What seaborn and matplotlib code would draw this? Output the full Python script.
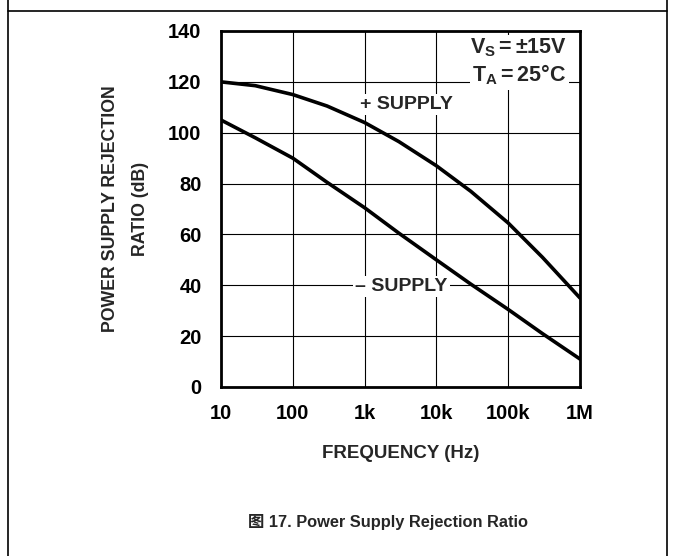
import matplotlib
matplotlib.use("Agg")
import matplotlib.pyplot as plt
from matplotlib.lines import Line2D
import seaborn as sns
import pandas as pd

freq = [10, 30, 100, 300, 1e3, 3e3, 1e4, 3e4, 1e5, 3e5, 1e6]
plus_supply = [120, 118.5, 115, 110.5, 104, 96.5, 87, 77, 64.5, 51, 35]
minus_supply = [105, 98, 90, 80.5, 70.5, 60.5, 50, 40.5, 30.5, 21, 11]
x_ticks = [10, 100, 1e3, 1e4, 1e5, 1e6]
x_tick_labels = ["10", "100", "1k", "10k", "100k", "1M"]
y_ticks = [0, 20, 40, 60, 80, 100, 120, 140]

sns.set_style("white")
plt.rcParams["font.family"] = ["Liberation Sans", "DejaVu Sans"]
plt.rcParams["mathtext.fontset"] = "custom"
plt.rcParams["mathtext.rm"] = "Liberation Sans:bold"
plt.rcParams["mathtext.it"] = "Liberation Sans:bold"
plt.rcParams["mathtext.bf"] = "Liberation Sans:bold"

df = pd.DataFrame({
    "freq": freq * 2,
    "psrr": plus_supply + minus_supply,
    "series": ["+"] * len(freq) + ["-"] * len(freq),
})

fig = plt.figure(figsize=(6.75, 5.56), dpi=100)
ax = fig.add_axes([221 / 675, 1 - 387 / 556, (580 - 221) / 675, (387 - 31) / 556])

sns.lineplot(data=df, x="freq", y="psrr", units="series", estimator=None,
             color="black", linewidth=2.6, ax=ax, zorder=5, legend=False)

ax.set_xscale("log")
ax.set_xlim(10, 1e6)
ax.set_ylim(0, 140)
ax.set_xticks(x_ticks)
ax.set_xticklabels(x_tick_labels)
ax.set_yticks(y_ticks)
ax.minorticks_off()
ax.grid(True, which="major", color="black", linewidth=0.8)
ax.set_axisbelow(True)
for s in ax.spines.values():
    s.set_color("black")
    s.set_linewidth(2.0)
ax.tick_params(axis="both", length=0, labelsize=14.5, colors="black")
ax.tick_params(axis="y", pad=14)
ax.tick_params(axis="x", pad=12)
for lab in ax.get_xticklabels() + ax.get_yticklabels():
    lab.set_fontweight("bold")

ax.set_xlabel("FREQUENCY (Hz)", fontsize=13.5, fontweight="bold", labelpad=16)
ax.set_ylabel("POWER SUPPLY REJECTION\nRATIO (dB)", fontsize=12.8,
              fontweight="bold", labelpad=14, linespacing=2.0)

bb = dict(facecolor="white", edgecolor="none", pad=1.5)
ax.text(860, 111, "+ SUPPLY", fontsize=14, fontweight="bold",
        ha="left", va="center", bbox=bb, zorder=4)
ax.text(735, 39.5, "– SUPPLY", fontsize=14, fontweight="bold",
        ha="left", va="center", bbox=bb, zorder=4)
ax.text(0.694, 0.952, r"$V_S = \pm15V$", transform=ax.transAxes, fontsize=15.5,
        ha="left", va="center", bbox=bb, zorder=4)
ax.text(0.70, 0.876, r"$T_A = 25\degree C$", transform=ax.transAxes, fontsize=15.5,
        ha="left", va="center", bbox=bb, zorder=4)

fig.text(388 / 675, 1 - 522 / 556, "图 17. Power Supply Rejection Ratio",
         fontsize=11.8, fontweight="bold", ha="center", va="center",
         family=["Liberation Sans", "Noto Sans CJK SC"])

# page frame lines
fig.add_artist(Line2D([8 / 675, 8 / 675], [0, 1], color="black", lw=1.2,
                      transform=fig.transFigure))
fig.add_artist(Line2D([667 / 675, 667 / 675], [0, 1], color="black", lw=1.2,
                      transform=fig.transFigure))
fig.add_artist(Line2D([8 / 675, 667 / 675], [1 - 11 / 556, 1 - 11 / 556],
                      color="black", lw=1.2, transform=fig.transFigure))

fig.savefig("out.png", dpi=100)
